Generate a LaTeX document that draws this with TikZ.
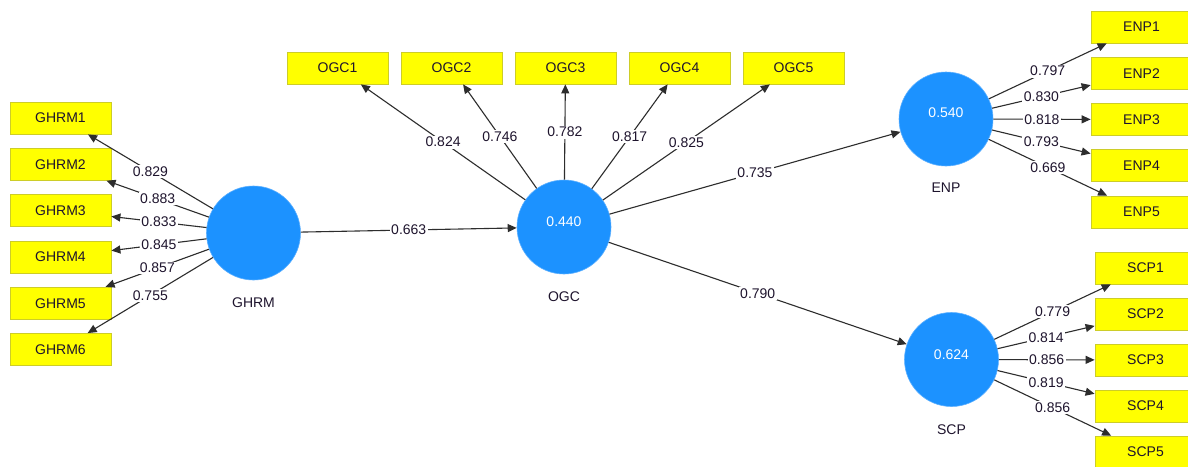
\documentclass[tikz,border=0pt]{standalone}
\usepackage{fontspec}
\setmainfont{Liberation Sans}
\usetikzlibrary{arrows.meta}
\definecolor{boxfill}{RGB}{255,255,0}
\definecolor{boxdraw}{RGB}{205,205,40}
\definecolor{lvfill}{RGB}{28,146,255}
\definecolor{lvdraw}{RGB}{90,175,255}
\definecolor{edgecol}{RGB}{45,45,45}
\definecolor{txtcol}{RGB}{30,20,45}
\begin{document}
\begin{tikzpicture}[x=1pt,y=-1pt,
  ind/.style={draw=boxdraw, fill=boxfill, line width=0.8pt, minimum width=101pt, minimum height=32pt, inner sep=0pt, text=txtcol, font=\fontsize{14}{16}\selectfont},
  lat/.style={circle, fill=lvfill, draw=lvdraw, line width=0.6pt, minimum size=94pt, inner sep=0pt},
  lvval/.style={text=white, inner sep=0pt, font=\fontsize{14}{16}\selectfont},
  lvname/.style={text=txtcol, inner sep=0pt, font=\fontsize{14}{16}\selectfont},
  lnk/.style={draw=edgecol, line width=1.1pt, -{Triangle[length=9pt,width=8pt]}},
  wt/.style={fill=white, inner sep=1.5pt, text=txtcol, font=\fontsize{14}{16}\selectfont}
]
\clip (0,0) rectangle (1188,466);
\fill[white] (0,0) rectangle (1188,466);

% latent variables
\node[lat] (ghrm) at (253.5,233) {};
\node[lvname] (ghrmname) at (253.5,303) {GHRM};
\node[lat] (ogc) at (564,227) {};
\node[lvval] (ogcval) at (564,222) {0.440};
\node[lvname] (ogcname) at (564,297) {OGC};
\node[lat] (enp) at (946,119) {};
\node[lvval] (enpval) at (946,113) {0.540};
\node[lvname] (enpname) at (946,188) {ENP};
\node[lat] (scp) at (951.5,359.5) {};
\node[lvval] (scpval) at (951.5,354.5) {0.624};
\node[lvname] (scpname) at (951.5,430) {SCP};

% GHRM indicators
\node[ind] (g1) at (60.5,118) {GHRM1};
\node[ind] (g2) at (60.5,164.3) {GHRM2};
\node[ind] (g3) at (60.5,210.6) {GHRM3};
\node[ind] (g4) at (60.5,256.9) {GHRM4};
\node[ind] (g5) at (60.5,303.2) {GHRM5};
\node[ind] (g6) at (60.5,349.5) {GHRM6};

% OGC indicators
\node[ind] (o1) at (337.5,68) {OGC1};
\node[ind] (o2) at (451.5,68) {OGC2};
\node[ind] (o3) at (565.5,68) {OGC3};
\node[ind] (o4) at (679.5,68) {OGC4};
\node[ind] (o5) at (793.5,68) {OGC5};

% ENP indicators
\node[ind] (e1) at (1141.5,27) {ENP1};
\node[ind] (e2) at (1141.5,73.25) {ENP2};
\node[ind] (e3) at (1141.5,119.5) {ENP3};
\node[ind] (e4) at (1141.5,165.75) {ENP4};
\node[ind] (e5) at (1141.5,212) {ENP5};

% SCP indicators
\node[ind] (s1) at (1145.5,268) {SCP1};
\node[ind] (s2) at (1145.5,314) {SCP2};
\node[ind] (s3) at (1145.5,360) {SCP3};
\node[ind] (s4) at (1145.5,406) {SCP4};
\node[ind] (s5) at (1145.5,452) {SCP5};

% loadings
\draw[lnk] (ghrm) -- node[wt] {0.829} (g1);
\draw[lnk] (ghrm) -- node[wt] {0.883} (g2);
\draw[lnk] (ghrm) -- node[wt] {0.833} (g3);
\draw[lnk] (ghrm) -- node[wt] {0.845} (g4);
\draw[lnk] (ghrm) -- node[wt] {0.857} (g5);
\draw[lnk] (ghrm) -- node[wt] {0.755} (g6);

\draw[lnk] (ogc) -- node[wt] {0.824} (o1);
\draw[lnk] (ogc) -- node[wt] {0.746} (o2);
\draw[lnk] (ogc) -- node[wt] {0.782} (o3);
\draw[lnk] (ogc) -- node[wt] {0.817} (o4);
\draw[lnk] (ogc) -- node[wt] {0.825} (o5);

\draw[lnk] (enp) -- node[wt] {0.797} (e1);
\draw[lnk] (enp) -- node[wt] {0.830} (e2);
\draw[lnk] (enp) -- node[wt] {0.818} (e3);
\draw[lnk] (enp) -- node[wt] {0.793} (e4);
\draw[lnk] (enp) -- node[wt] {0.669} (e5);

\draw[lnk] (scp) -- node[wt] {0.779} (s1);
\draw[lnk] (scp) -- node[wt] {0.814} (s2);
\draw[lnk] (scp) -- node[wt] {0.856} (s3);
\draw[lnk] (scp) -- node[wt] {0.819} (s4);
\draw[lnk] (scp) -- node[wt] {0.856} (s5);

% structural paths
\draw[lnk] (ghrm) -- node[wt] {0.663} (ogc);
\draw[lnk] (ogc) -- node[wt] {0.735} (enp);
\draw[lnk] (ogc) -- node[wt] {0.790} (scp);
\end{tikzpicture}
\end{document}
